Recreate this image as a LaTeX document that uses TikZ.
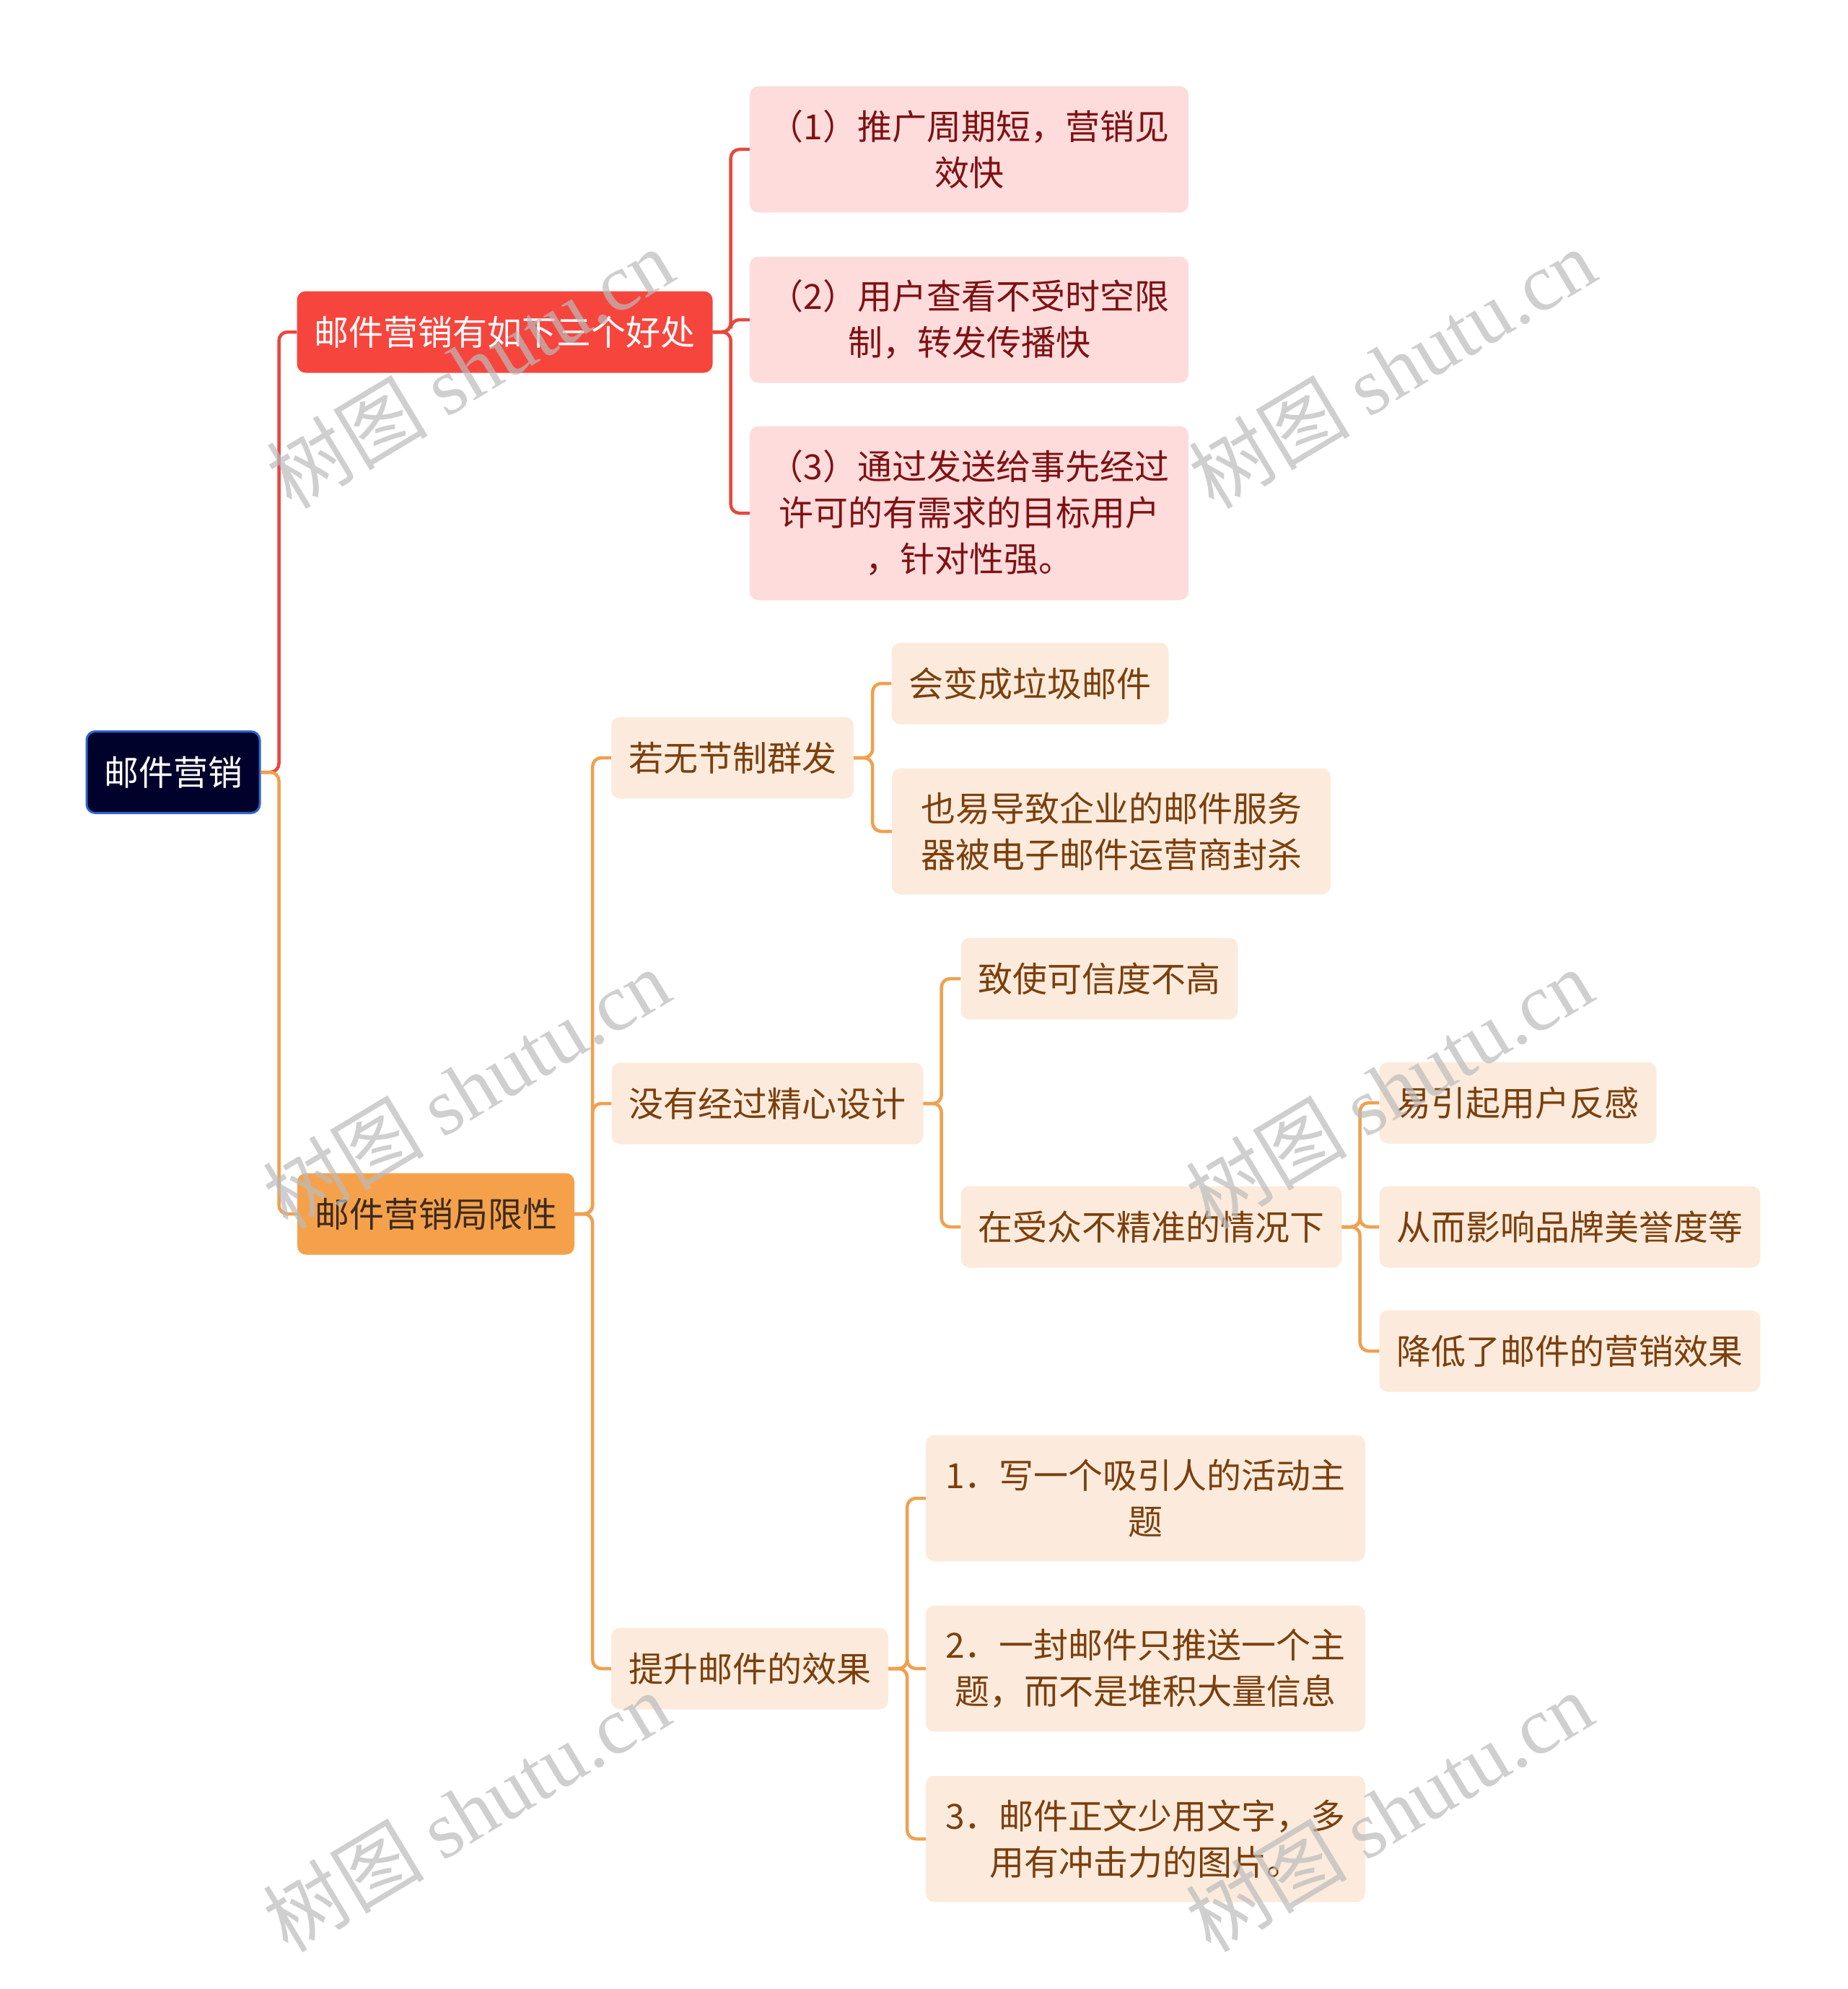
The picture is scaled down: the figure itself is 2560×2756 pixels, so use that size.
\documentclass[tikz,border=0pt]{standalone}
\usepackage{fontspec}
\usepackage{tikz}
\setmainfont{Noto Sans CJK SC}
\newfontfamily\wmlatin{Liberation Serif}
\definecolor{rootfill}{HTML}{01022B}
\definecolor{rootline}{HTML}{2E63D0}
\definecolor{redfill}{HTML}{F6453D}
\definecolor{redline}{HTML}{E8473F}
\definecolor{pinkfill}{HTML}{FDDCDB}
\definecolor{pinktext}{HTML}{7E1114}
\definecolor{orangefill}{HTML}{F5A14B}
\definecolor{orangeline}{HTML}{F0A050}
\definecolor{peachfill}{HTML}{FCEBDC}
\definecolor{browntext}{HTML}{7B3F0D}
\definecolor{darktext}{HTML}{3D2B1F}
\definecolor{wmgray}{HTML}{BBBBBB}
\newcommand\mapfont{\fontsize{48}{64}\selectfont}

\begin{document}
\begin{tikzpicture}[x=1pt, y=-1pt,
    rootbox/.style={draw=rootline, line width=3pt, fill=rootfill, text=white,
                rounded corners=12pt, minimum height=113pt, inner xsep=24pt, font=\mapfont},
    goodbox/.style={fill=redfill, text=white, rounded corners=12pt,
                minimum height=113pt, inner xsep=24pt, font=\mapfont},
    goodsub/.style={fill=pinkfill, text=pinktext, rounded corners=12pt, align=center,
                minimum width=608pt, minimum height=175pt, inner xsep=24pt, font=\mapfont},
    limitbox/.style={fill=orangefill, text=darktext, rounded corners=12pt,
                minimum height=113pt, inner xsep=24pt, font=\mapfont},
    leaf/.style={fill=peachfill, text=browntext, rounded corners=12pt, align=center,
                minimum height=113pt, inner xsep=24pt, font=\mapfont},
    redlink/.style={draw=redline, line width=4.5pt, rounded corners=12pt},
    orglink/.style={draw=orangeline, line width=4.5pt, rounded corners=12pt},
    wmark/.style={text=wmgray, opacity=0.7, rotate=31, font=\fontsize{112}{112}\selectfont},
]
    \useasboundingbox (0,0) rectangle (2560,2756);

    % Root
    \node[rootbox] (mail) at (240, 1070) {邮件营销};

    % First branch: benefits
    \node[goodbox] (good) at (699.5, 460) {邮件营销有如下三个好处};
    \node[goodsub] (good1) at (1343, 207) {（1）推广周期短，营销见\\效快};
    \node[goodsub] (good2) at (1343, 443) {（2）用户查看不受时空限\\制，转发传播快};
    \node[goodsub, minimum height=241pt] (good3) at (1343, 711)
        {（3）通过发送给事先经过\\许可的有需求的目标用户\\，针对性强。};

    % Second branch: limits
    \node[limitbox] (limit) at (604, 1682) {邮件营销局限性};

    \node[leaf] (mass) at (1015, 1050) {若无节制群发};
    \node[leaf] (spam) at (1427.5, 947) {会变成垃圾邮件};
    \node[leaf, minimum width=608pt, minimum height=175pt] (block) at (1540, 1152)
        {也易导致企业的邮件服务\\器被电子邮件运营商封杀};

    \node[leaf] (design) at (1063.5, 1529) {没有经过精心设计};
    \node[leaf] (trust) at (1523.5, 1356) {致使可信度不高};
    \node[leaf] (target) at (1595.5, 1700) {在受众不精准的情况下};
    \node[leaf] (dislike) at (2103.5, 1528) {易引起用户反感};
    \node[leaf] (brand) at (2175.5, 1700) {从而影响品牌美誉度等};
    \node[leaf] (effect) at (2175.5, 1872) {降低了邮件的营销效果};

    \node[leaf] (improve) at (1039, 2312) {提升邮件的效果};
    \node[leaf, minimum width=609pt, minimum height=175pt] (tip1) at (1587.5, 2076)
        {1．写一个吸引人的活动主\\题};
    \node[leaf, minimum width=609pt, minimum height=175pt] (tip2) at (1587.5, 2312)
        {2．一封邮件只推送一个主\\题，而不是堆积大量信息};
    \node[leaf, minimum width=609pt, minimum height=175pt] (tip3) at (1587.5, 2548)
        {3．邮件正文少用文字，多\\用有冲击力的图片。};

    % Links
    \draw[redlink] (mail.east) -- ++(25,0) |- (good.west);
    \draw[orglink] (mail.east) -- ++(25,0) |- (limit.west);
    \draw[redlink] (good.east) -- ++(25,0) |- (good1.west);
    \draw[redlink] (good.east) -- ++(25,0) |- (good2.west);
    \draw[redlink] (good.east) -- ++(25,0) |- (good3.west);
    \draw[orglink] (limit.east) -- ++(25,0) |- (mass.west);
    \draw[orglink] (limit.east) -- ++(25,0) |- (design.west);
    \draw[orglink] (limit.east) -- ++(25,0) |- (improve.west);
    \draw[orglink] (mass.east) -- ++(26,0) |- (spam.west);
    \draw[orglink] (mass.east) -- ++(26,0) |- (block.west);
    \draw[orglink] (design.east) -- ++(25,0) |- (trust.west);
    \draw[orglink] (design.east) -- ++(25,0) |- (target.west);
    \draw[orglink] (target.east) -- ++(25,0) |- (dislike.west);
    \draw[orglink] (target.east) -- ++(25,0) |- (brand.west);
    \draw[orglink] (target.east) -- ++(25,0) |- (effect.west);
    \draw[orglink] (improve.east) -- ++(26,0) |- (tip1.west);
    \draw[orglink] (improve.east) -- ++(26,0) |- (tip2.west);
    \draw[orglink] (improve.east) -- ++(26,0) |- (tip3.west);

    % Watermarks
    \foreach \wx/\wy [count=\i] in {651/510, 1929/510, 646/1508, 1925/1508, 646/2510, 1925/2510}
        \node[wmark] (wm\i) at (\wx, \wy) {树图 {\wmlatin shutu.cn}};
\end{tikzpicture}
\end{document}
